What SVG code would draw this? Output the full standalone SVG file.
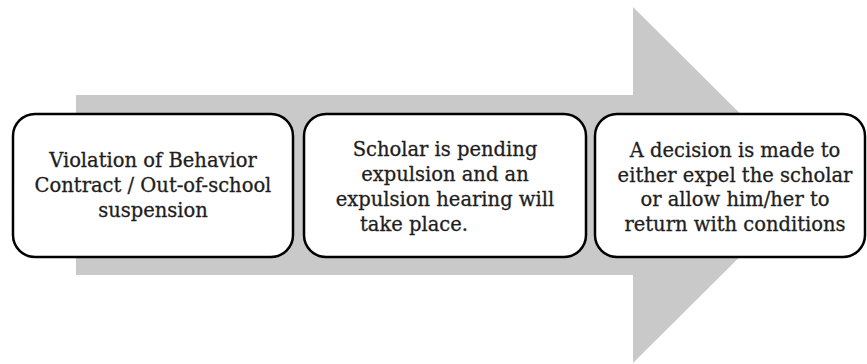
<svg xmlns="http://www.w3.org/2000/svg" width="867" height="364" viewBox="0 0 867 364">
<style>
.box{fill:#fff;stroke:#000;stroke-width:2.5}
.t{font-family:"DejaVu Serif","Liberation Serif",serif;font-size:19.5px;fill:#1e1e1e;stroke:#1e1e1e;stroke-width:0.3;text-anchor:middle}
</style>
<rect width="867" height="364" fill="#fff"/>
<g id="arrow">
<polygon points="76,95 633,95 633,7 812,185 633,363 633,275 76,275" fill="#c9c9c9"/>
</g>
<g id="node1">
<rect class="box" x="13" y="114" width="280" height="143" rx="22"/>
<text class="t" x="153" y="167">Violation of Behavior</text>
<text class="t" x="153" y="192">Contract / Out-of-school</text>
<text class="t" x="153" y="217">suspension</text>
</g>
<g id="node2">
<rect class="box" x="304" y="114" width="282" height="143" rx="22"/>
<text class="t" x="445" y="156">Scholar is pending</text>
<text class="t" x="445" y="181">expulsion and an</text>
<text class="t" x="445" y="206">expulsion hearing will</text>
<text class="t" x="360" y="231" style="text-anchor:start">take place.</text>
</g>
<g id="node3">
<rect class="box" x="595" y="114" width="270" height="143" rx="22"/>
<text class="t" x="735" y="157">A decision is made to</text>
<text class="t" x="735" y="182">either expel the scholar</text>
<text class="t" x="735" y="206">or allow him/her to</text>
<text class="t" x="735" y="231">return with conditions</text>
</g>
</svg>
